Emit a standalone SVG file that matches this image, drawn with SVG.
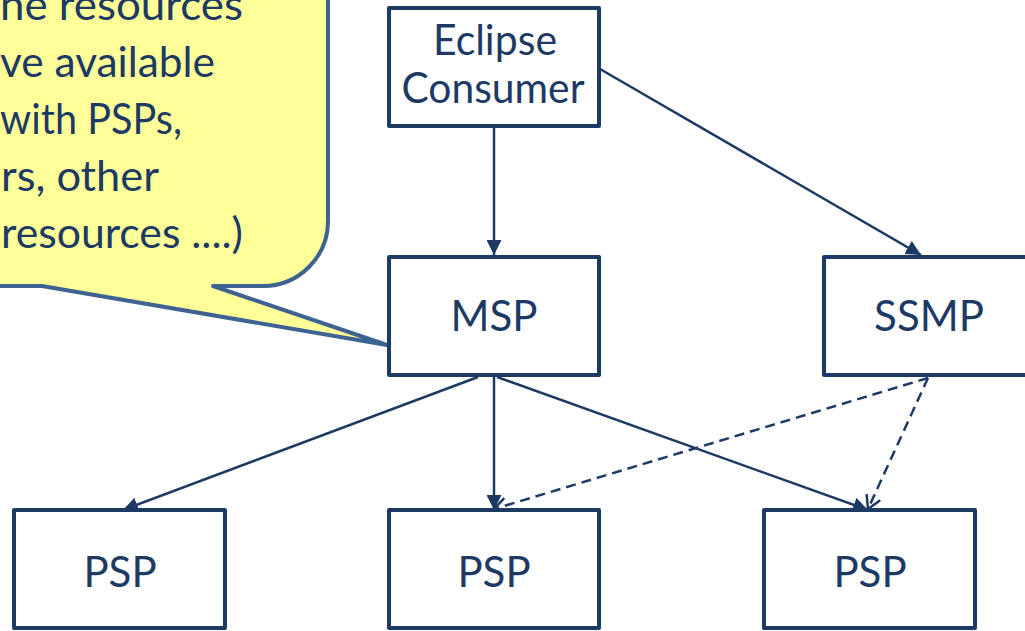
<svg xmlns="http://www.w3.org/2000/svg" width="1025" height="631" viewBox="0 0 1025 631">
  <style>
    .box { fill: #ffffff; stroke: #1c3a64; stroke-width: 4; stroke-linejoin: round; }
    .lbl { font-family: Lato, "Open Sans", "Liberation Sans", sans-serif; font-size: 42px; fill: #1c3a64; text-anchor: middle; }
    .btxt { font-family: Lato, "Open Sans", "Liberation Sans", sans-serif; font-size: 43px; fill: #1c3a64; }
    .conn { stroke: #1c3a64; stroke-width: 2.5; fill: none; }
    .dash { stroke-dasharray: 10 6; }
  </style>
  <defs>
    <marker id="filled" markerUnits="userSpaceOnUse" markerWidth="16" markerHeight="15" refX="15" refY="7.5" orient="auto" viewBox="0 0 16 15">
      <path d="M0,0 L15,7.5 L0,15 z" fill="#1c3a64"/>
    </marker>
    <marker id="open" markerUnits="userSpaceOnUse" markerWidth="18" markerHeight="18" refX="15" refY="9" orient="auto" viewBox="0 0 18 18">
      <path d="M2,1.5 L15,9 L2,16.5" fill="none" stroke="#1c3a64" stroke-width="2.5"/>
    </marker>
  </defs>

  <g id="callout">
    <path d="M-20,-20 L328,-20 L328,221 A65,65 0 0 1 263,286 L213,286 L387,345 L42,286 L-20,286 Z" fill="#ffff99" stroke="#3e6291" stroke-width="4" stroke-linejoin="round"/>
    <text class="btxt" x="0" y="20" textLength="243" lengthAdjust="spacingAndGlyphs">ne resources</text>
    <text class="btxt" x="0" y="77" textLength="215" lengthAdjust="spacingAndGlyphs">ve available</text>
    <text class="btxt" x="0" y="134" textLength="182" lengthAdjust="spacingAndGlyphs">with PSPs,</text>
    <text class="btxt" x="1" y="191" textLength="158" lengthAdjust="spacingAndGlyphs">rs, other</text>
    <text class="btxt" x="1" y="248" textLength="242" lengthAdjust="spacingAndGlyphs">resources ....)</text>
  </g>

  <g id="connectors">
    <path class="conn" d="M494,128 L494,255" marker-end="url(#filled)"/>
    <path class="conn" d="M600,69 L921,255" marker-end="url(#filled)"/>
    <path class="conn" d="M478,377 L123,510" marker-end="url(#filled)"/>
    <path class="conn" d="M494,377 L494,510" marker-end="url(#filled)"/>
    <path class="conn" d="M497,377 L868,510" marker-end="url(#filled)"/>
    <path class="conn dash" d="M928,378 L494,509" marker-end="url(#open)"/>
    <path class="conn dash" d="M928,378 L868,509" marker-end="url(#open)"/>
  </g>

  <g id="eclipse-consumer">
    <rect class="box" x="389" y="8" width="210" height="118"/>
    <text class="lbl" x="495" y="55" textLength="124" lengthAdjust="spacingAndGlyphs">Eclipse</text>
    <text class="lbl" x="493" y="103" textLength="183" lengthAdjust="spacingAndGlyphs">Consumer</text>
  </g>
  <g id="msp">
    <rect class="box" x="389" y="257" width="210" height="118"/>
    <text class="lbl" x="494" y="331">MSP</text>
  </g>
  <g id="ssmp">
    <rect class="box" x="824" y="257" width="210" height="118"/>
    <text class="lbl" x="929" y="331">SSMP</text>
  </g>
  <g id="psp-left">
    <rect class="box" x="14" y="510" width="211" height="118"/>
    <text class="lbl" x="120" y="587">PSP</text>
  </g>
  <g id="psp-middle">
    <rect class="box" x="389" y="510" width="210" height="118"/>
    <text class="lbl" x="494" y="587">PSP</text>
  </g>
  <g id="psp-right">
    <rect class="box" x="764" y="510" width="211" height="118"/>
    <text class="lbl" x="870" y="587">PSP</text>
  </g>
</svg>
